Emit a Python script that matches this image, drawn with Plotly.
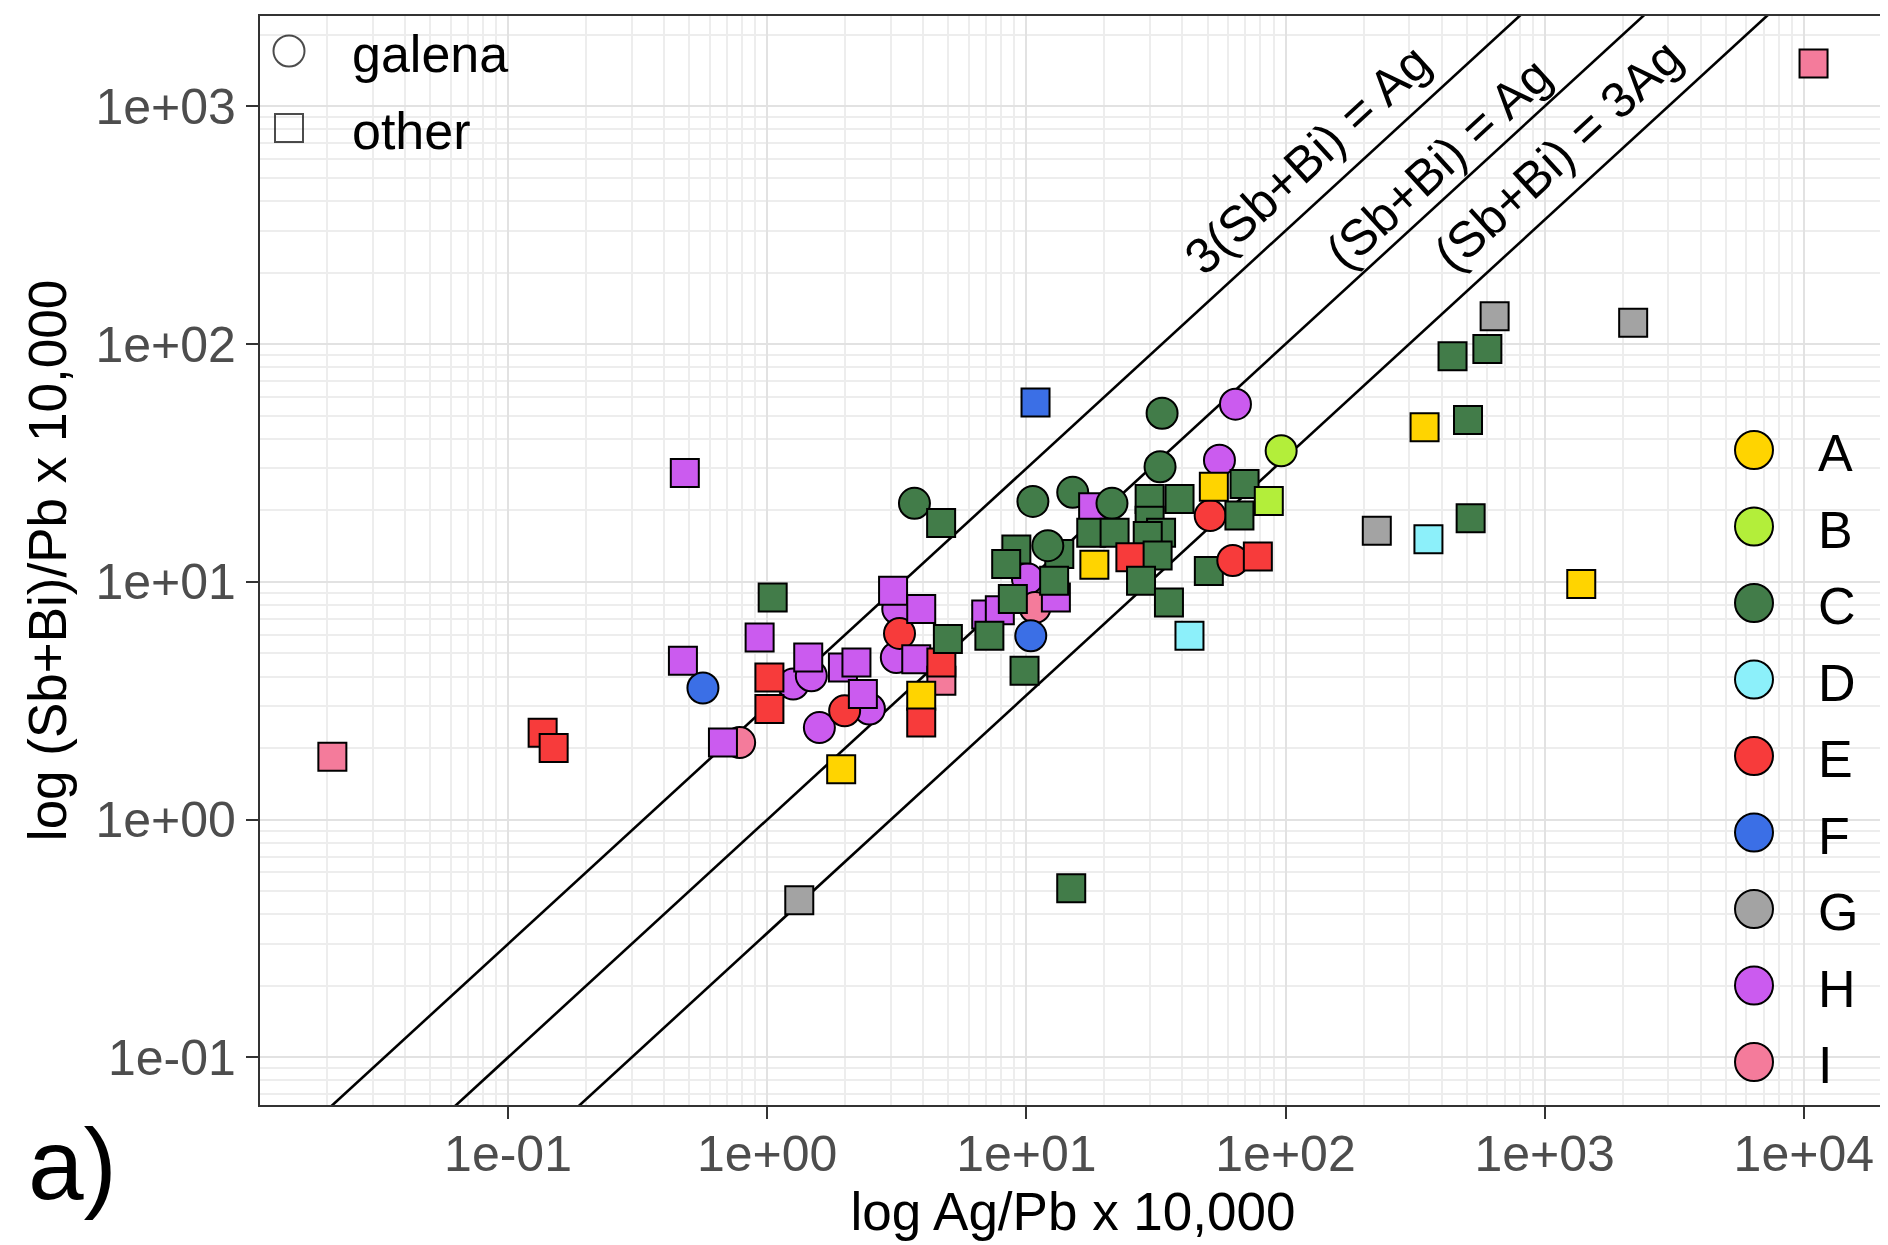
import math
import plotly.graph_objects as go

# ---------------- data ----------------
ag_pb = [0.0210, 0.136, 0.150, 0.481, 0.473, 0.565, 0.783, 0.675, 1.26, 1.48,
         1.59, 2.48, 1.99, 1.05, 0.935, 1.02, 1.02, 1.44, 1.96, 2.21,
         2.34, 1.93, 3.19, 3.15, 3.24, 3.06, 3.93, 3.76, 4.70, 4.70,
         3.93, 3.93, 4.98, 3.70, 4.69, 1.33, 14.9,
         10.85, 33.4, 64.1, 32.8, 55.6, 96.2, 10.6, 15.1, 18.1, 21.4,
         10.1, 10.8, 7.0, 7.9, 8.87, 13.0, 9.15, 8.36, 13.4, 12.8,
         12.1, 7.2, 10.4, 9.84, 17.8, 21.9, 29.9, 39.0, 29.9, 33.1,
         29.4, 18.3, 25.2, 32.1, 27.7, 35.5, 42.6, 51.2, 52.9, 69.5,
         66.4, 86.2, 50.6, 62.6, 78.2,
         225, 356, 518, 344, 506, 441, 601, 641, 2195, 1384, 10900]
sbbi_pb = [1.84, 2.32, 2.00, 28.7, 4.66, 3.58, 2.11, 2.11, 3.72, 4.03,
           2.44, 2.92, 2.87, 8.6, 5.84, 3.96, 2.92, 4.81, 4.37, 4.58,
           3.38, 1.63, 7.69, 4.81, 6.07, 9.18, 7.69, 4.73, 3.84, 4.58,
           3.32, 2.56, 5.75, 21.4, 17.7, 0.458, 0.515,
           56.8, 51.2, 55.9, 30.5, 32.5, 35.6, 21.8, 23.8, 20.6, 21.4,
           10.3, 7.8, 7.3, 7.6, 8.47, 8.6, 13.7, 11.9, 13.1, 10.1,
           14.2, 5.93, 5.93, 4.23, 16.1, 16.1, 22.3, 22.3, 18.1, 16.1,
           15.6, 11.8, 12.7, 12.9, 10.1, 8.2, 5.93, 19.0, 25.1, 25.8,
           19.0, 21.9, 11.1, 12.3, 12.8,
           16.4, 15.1, 18.5, 44.7, 48.0, 89.0, 95.5, 131, 123, 9.8, 1513]
group = ["I", "E", "E", "H", "H", "F", "I", "H", "H", "H",
         "H", "H", "E", "C", "H", "E", "E", "H", "H", "H",
         "H", "A", "H", "H", "E", "H", "H", "H", "I", "E",
         "A", "E", "C", "C", "C", "G", "C",
         "F", "C", "H", "C", "H", "B", "C", "C", "H", "C",
         "H", "I", "H", "H", "C", "H", "C", "C", "C", "C",
         "C", "C", "F", "C", "C", "C", "C", "C", "C", "C",
         "C", "A", "E", "C", "C", "C", "D", "E", "A", "C",
         "C", "B", "C", "E", "E",
         "G", "D", "C", "A", "C", "C", "C", "G", "G", "A", "I"]
mineral = ["other", "other", "other", "other", "other", "galena", "galena", "other", "galena", "galena",
           "galena", "galena", "galena", "other", "other", "other", "other", "other", "other", "other",
           "other", "other", "galena", "galena", "galena", "other", "other", "other", "other", "other",
           "other", "other", "other", "galena", "other", "other", "other",
           "other", "galena", "galena", "galena", "galena", "galena", "galena", "galena", "other", "galena",
           "galena", "galena", "other", "other", "other", "other", "other", "other", "other", "other",
           "galena", "other", "galena", "other", "other", "other", "other", "other", "other", "other",
           "other", "other", "other", "other", "other", "other", "other", "galena", "other", "other",
           "other", "other", "other", "galena", "other",
           "other", "other", "other", "other", "other", "other", "other", "other", "other", "other", "other"]

groups = ["A", "B", "C", "D", "E", "F", "G", "H", "I"]
minerals = ["galena", "other"]
ratio_values = [3.0, 1.0, 1.0 / 3.0]
ratio_labels = ["3(Sb+Bi) = Ag", "(Sb+Bi) = Ag", "(Sb+Bi) = 3Ag"]
x_ticks = [1e-1, 1e0, 1e1, 1e2, 1e3, 1e4]
x_ticktext = ["1e-01", "1e+00", "1e+01", "1e+02", "1e+03", "1e+04"]
y_ticks = [1e-1, 1e0, 1e1, 1e2, 1e3]
y_ticktext = ["1e-01", "1e+00", "1e+01", "1e+02", "1e+03"]

# ---------------- styles ----------------
group_colors = {"A": "#FFD400", "B": "#B3EE3A", "C": "#427C49", "D": "#8CF0FA",
                "E": "#F73B3B", "F": "#3B6FE6", "G": "#A3A3A3", "H": "#CB5BEF",
                "I": "#F47B9B"}
symbol_of = {"galena": "circle", "other": "square"}
size_of = {"galena": 31, "other": 28}

# The page body has an 8 px margin: the figure starts at (8, 8) of the window.
OFF = 8
SCREEN_W, SCREEN_H = 1888, 1245
W, H = SCREEN_W - OFF, SCREEN_H - OFF
# panel edges in window pixels, converted to figure pixels
PL, PR, PT, PB = 260 - OFF, 1886 - OFF, 16 - OFF, 1105 - OFF
XR = [-1.957, 4.317]
YR = [-1.200, 3.380]
FONT = "Liberation Sans, Arial, Helvetica, sans-serif"


def sx(px):
    """window-pixel x -> figure pixel x"""
    return px - OFF


def sy(py):
    return py - OFF


def px_to_paper_x(px):
    return (sx(px) - PL) / (PR - PL)


def px_to_paper_y(py):
    return (PB - sy(py)) / (PB - PT)


fig = go.Figure()

# reference lines
xl = [10 ** (XR[0] - 1), 10 ** (XR[1] + 1)]
for r in ratio_values:
    fig.add_trace(go.Scatter(x=xl, y=[r * v for v in xl], mode="lines",
                             line=dict(color="black", width=2.6),
                             showlegend=False, hoverinfo="skip"))

# data points
fig.add_trace(go.Scatter(
    x=ag_pb, y=sbbi_pb, mode="markers", showlegend=False,
    text=[f"{g} ({m})" for g, m in zip(group, mineral)],
    marker=dict(symbol=[symbol_of[m] for m in mineral],
                size=[size_of[m] for m in mineral],
                color=[group_colors[g] for g in group],
                opacity=1,
                line=dict(color="black", width=2)),
))

# ---- custom legends drawn on a pixel-space overlay axis (figure pixels) ----
leg2_x = sx(1754)
leg2_y0, leg2_dy = sy(450), 76.5
fig.add_trace(go.Scatter(
    x=[leg2_x] * len(groups), y=[leg2_y0 + i * leg2_dy for i in range(len(groups))],
    xaxis="x2", yaxis="y2", mode="markers", showlegend=False, hoverinfo="skip",
    marker=dict(symbol="circle", size=38, color=[group_colors[g] for g in groups],
                line=dict(color="black", width=2)),
))
leg1_x = sx(289)
leg1_y = [sy(51), sy(128)]
fig.add_trace(go.Scatter(
    x=[leg1_x, leg1_x], y=leg1_y, xaxis="x2", yaxis="y2", mode="markers",
    showlegend=False, hoverinfo="skip",
    marker=dict(symbol=[symbol_of[m] + "-open" for m in minerals], size=[31, 28],
                color="black", line=dict(color="black", width=2)),
))

annotations = []
for m, yy in zip(minerals, leg1_y):
    annotations.append(dict(x=sx(350), y=yy + 3, xref="x2", yref="y2", text=m,
                            showarrow=False, xanchor="left", yanchor="middle",
                            font=dict(family=FONT, size=52, color="black")))
for i, g in enumerate(groups):
    annotations.append(dict(x=sx(1816), y=leg2_y0 + i * leg2_dy + 3, xref="x2", yref="y2", text=g,
                            showarrow=False, xanchor="left", yanchor="middle",
                            font=dict(family=FONT, size=52, color="black")))

# line labels (positions along each line)
label_pos = [(2.083, 2.774), (2.594, 2.760), (3.053, 2.795)]
ang = -math.degrees(math.atan(((PB - PT) / (YR[1] - YR[0])) / ((PR - PL) / (XR[1] - XR[0]))))
for txt, (lx, ly) in zip(ratio_labels, label_pos):
    annotations.append(dict(x=lx, y=ly, xref="x", yref="y", text=txt, showarrow=False,
                            textangle=ang, xanchor="center", yanchor="middle",
                            font=dict(family=FONT, size=50, color="black")))

# panel tag
annotations.append(dict(x=px_to_paper_x(72), y=px_to_paper_y(1164), xref="paper", yref="paper",
                        text="a)", showarrow=False, xanchor="center", yanchor="middle",
                        font=dict(family=FONT, size=100, color="black")))

shapes = [
    dict(type="rect", xref="x domain", yref="y domain", layer="below",
         x0=0, x1=px_to_paper_x(538), y0=px_to_paper_y(165), y1=1,
         fillcolor="white", line=dict(width=0)),
    dict(type="rect", xref="x domain", yref="y domain", layer="below",
         x0=px_to_paper_x(1704), x1=1, y0=0, y1=px_to_paper_y(415),
         fillcolor="white", line=dict(width=0)),
]

axis_common = dict(
    type="log", showline=True, mirror=True, linecolor="#333333", linewidth=2.2,
    ticks="outside", ticklen=12, tickwidth=2.4, tickcolor="#333333",
    tickfont=dict(family=FONT, size=50, color="#4D4D4D"),
    showgrid=True, gridcolor="#E2E2E2", gridwidth=2.2, zeroline=False,
    minor=dict(dtick="D1", showgrid=True, gridcolor="#EDEDED", gridwidth=1.5),
    tickmode="array", automargin=False,
)

fig.update_layout(
    width=W, height=H,
    margin=dict(l=PL, r=W - PR, t=PT, b=H - PB, pad=0, autoexpand=False),
    paper_bgcolor="white", plot_bgcolor="white",
    font=dict(family=FONT, color="black"),
    xaxis=dict(axis_common, range=XR, tickvals=x_ticks, ticktext=x_ticktext,
               ticklabelstandoff=-8,
               title=dict(text="log Ag/Pb x 10,000", standoff=11,
                          font=dict(family=FONT, size=53, color="black"))),
    yaxis=dict(axis_common, range=YR, tickvals=y_ticks, ticktext=y_ticktext,
               title=dict(text="log (Sb+Bi)/Pb x 10,000", standoff=12,
                          font=dict(family=FONT, size=53, color="black"))),
    xaxis2=dict(overlaying="x", anchor="y2", range=[PL, PR], visible=False, fixedrange=True),
    yaxis2=dict(overlaying="y", anchor="x2", range=[PB, PT], visible=False, fixedrange=True),
    annotations=annotations,
    shapes=shapes,
    showlegend=False,
)

fig.write_html("out.html")
